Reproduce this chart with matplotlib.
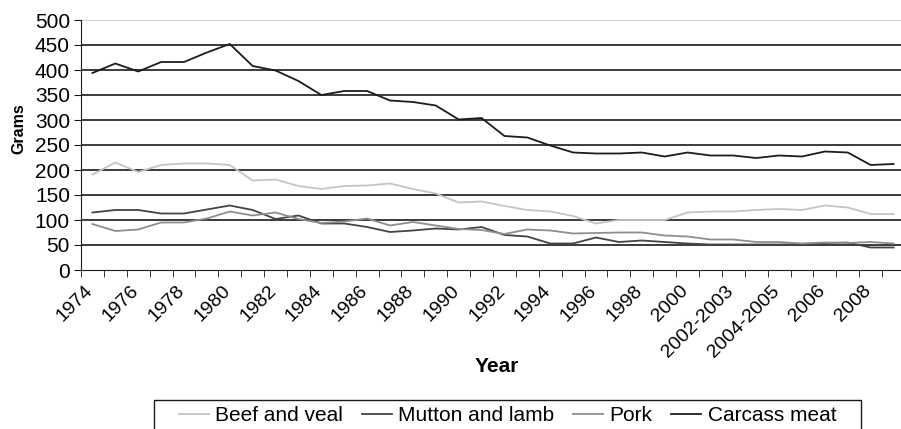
import matplotlib
matplotlib.use("Agg")
import matplotlib.pyplot as plt
import matplotlib.transforms as mtransforms
from matplotlib.patches import Rectangle
import numpy as np

plt.rcParams['font.family'] = ['Liberation Sans', 'DejaVu Sans']

# ---- data: grams per person per week ----
years = [str(y) for y in range(1974, 2001)] + [
    '2001-2002', '2002-2003', '2003-2004', '2004-2005', '2005-2006',
    '2006', '2007', '2008', '2009']

beef_veal = [191, 215, 196, 210, 213, 213, 210, 179, 181, 168, 162, 168,
             169, 173, 162, 153, 135, 137, 128, 120, 117, 108, 93, 100,
             100, 100, 115, 117, 117, 120, 122, 120, 129, 125, 112, 112]
mutton_lamb = [115, 120, 120, 113, 113, 121, 129, 120, 102, 109, 93, 93,
               86, 76, 79, 83, 81, 86, 70, 67, 53, 53, 65, 56,
               59, 56, 53, 51, 51, 51, 51, 52, 54, 55, 45, 45]
pork = [92, 78, 81, 95, 95, 103, 117, 109, 115, 102, 94, 97,
        103, 89, 96, 89, 82, 80, 72, 81, 79, 73, 74, 75,
        75, 69, 67, 61, 61, 56, 56, 53, 55, 54, 56, 53]
carcass = [394, 413, 397, 416, 416, 435, 452, 408, 399, 378, 350, 358,
           358, 339, 336, 329, 301, 304, 268, 265, 249, 235, 233, 233,
           235, 227, 235, 229, 229, 224, 229, 227, 237, 235, 210, 212]

series = [
    ('Beef and veal', beef_veal, '#c4c4c4'),
    ('Mutton and lamb', mutton_lamb, '#444444'),
    ('Pork', pork, '#8e8e8e'),
    ('Carcass meat', carcass, '#1c1c1c'),
]

fig = plt.figure(figsize=(9.01, 4.29), dpi=100)
# plot area runs a little past the right edge of the figure
ax = fig.add_axes([81 / 901, 159 / 429, 824 / 901, 250 / 429])

x = np.arange(len(years))
for name, vals, col in series:
    ax.plot(x, vals, color=col, lw=1.3, label=name)

ax.set_xlim(-0.5, len(years) - 0.5)
ax.set_ylim(0, 500)
ax.set_yticks(np.arange(0, 501, 50))
ax.yaxis.grid(True, color='#1a1a1a', lw=1.2)
ax.set_axisbelow(True)
ax.get_ygridlines()[-1].set_color('#c8c8c8')
ax.get_ygridlines()[0].set_visible(False)

for s in ['top', 'right']:
    ax.spines[s].set_visible(False)
ax.spines['left'].set_color('#1a1a1a')
ax.spines['bottom'].set_color('#1a1a1a')

# labels on every other category, tick marks between categories
ax.set_xticks(x[::2])
ax.set_xticks(np.arange(-0.5, len(years), 1), minor=True)
ax.tick_params(axis='x', which='major', length=0, pad=9)
ax.tick_params(axis='x', which='minor', length=5, direction='out',
               color='#1a1a1a')
ax.tick_params(axis='y', length=5, direction='out', labelsize=15,
               color='#1a1a1a', pad=3)
ax.set_xticklabels(years[::2], rotation=45, ha='right', va='top',
                   rotation_mode='anchor', fontsize=14)
# nudge the slanted labels left of the category centre
shift = mtransforms.ScaledTranslation(-8 / 100, 0, fig.dpi_scale_trans)
for lbl in ax.get_xticklabels():
    lbl.set_transform(lbl.get_transform() + shift)

fig.text(497 / 901, 1 - 367 / 429, 'Year', fontsize=15, fontweight='bold',
         ha='center', va='center')
fig.text(18.5 / 901, 1 - 129 / 429, 'Grams', fontsize=11.5, fontweight='bold',
         rotation=90, ha='center', va='center')

leg = fig.legend(loc='upper center', bbox_to_anchor=(507.5 / 901, 1 - 400 / 429),
                 ncol=4, fontsize=15, frameon=True, fancybox=False,
                 handlelength=1.45, handletextpad=0.3, columnspacing=0.9,
                 borderpad=0.3, borderaxespad=0)
leg.get_frame().set_visible(False)

# legend border: wider side margins, bottom edge runs off the figure
fig.canvas.draw()
bb = leg.get_window_extent()
side = 18
fig.patches.append(Rectangle((bb.x0 - side, bb.y0 - 10), bb.width + 2 * side,
                             bb.height + 10, transform=None, fill=False,
                             edgecolor='#1a1a1a', lw=1.0, figure=fig))

fig.savefig('out.png', dpi=100)
